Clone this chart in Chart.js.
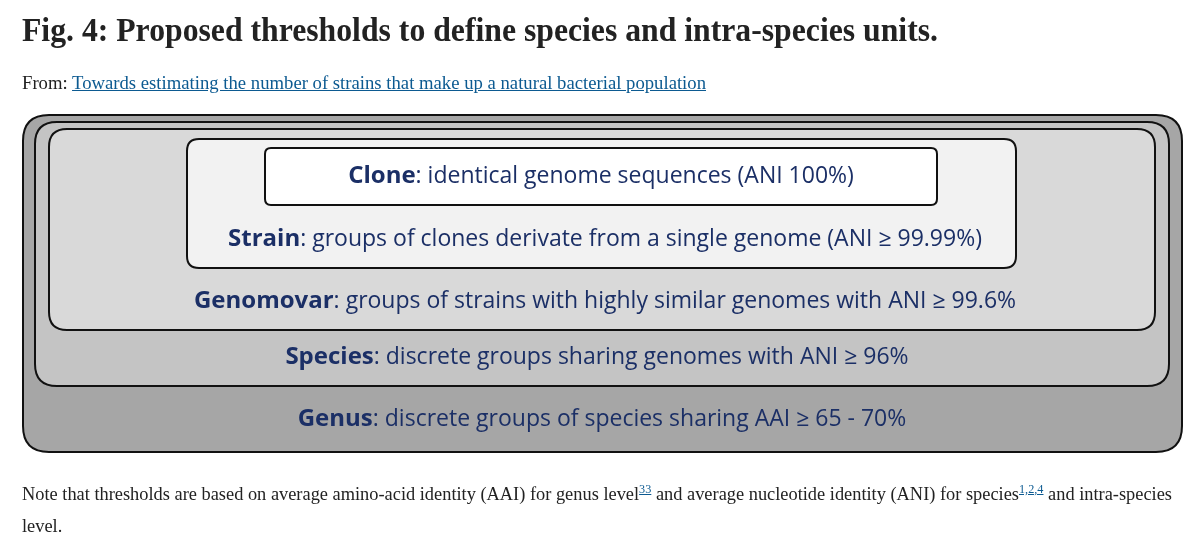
<!DOCTYPE html>
<html><head><meta charset="utf-8">
<script src="https://cdn.jsdelivr.net/npm/chart.js@4"></script>
<style>
html,body{margin:0;padding:0;background:#fff;width:1200px;height:540px;overflow:hidden;font-family:"Liberation Serif",serif}
#wrap{position:absolute;left:0;top:0;width:1200px;height:540px}
.fit{position:absolute;white-space:nowrap;transform-origin:0 0;display:inline-block}
#title{left:22px;top:12px;font-weight:bold;font-size:33px;color:#222}
#from{left:22px;top:73px;font-size:18px;color:#222}
#from a{color:#0c5a91;text-decoration:underline}
#note{left:22px;top:473px;font-size:18px;color:#222;line-height:32px}
#note a{color:#0c5a91;text-decoration:underline;font-size:12px;vertical-align:super}
</style></head><body>
<div id="wrap"><canvas id="c" width="1200" height="540"></canvas></div>
<div id="title" class="fit" data-w="916">Fig. 4: Proposed thresholds to define species and intra-species units.</div>
<div id="from" class="fit" data-w="684">From: <a>Towards estimating the number of strains that make up a natural bacterial population</a></div>
<div id="note" class="fit" data-w="1150">Note that thresholds are based on average amino-acid identity (AAI) for genus level<a>33</a> and average nucleotide identity (ANI) for species<a>1,2,4</a> and intra-species<br>level.</div>
<script>
const levels = ["Genus", "Species", "Genomovar", "Strain", "Clone"];
const descriptions = [
  ": discrete groups of species sharing AAI \u2265 65 - 70%",
  ": discrete groups sharing genomes with ANI \u2265 96%",
  ": groups of strains with highly similar genomes with ANI \u2265 99.6%",
  ": groups of clones derivate from a single genome (ANI \u2265 99.99%)",
  ": identical genome sequences (ANI 100%)"
];
const boxLeft   = [23, 35, 49, 187, 265];
const boxRight  = [1182, 1169, 1155, 1016, 937];
const boxTop    = [115, 122, 129, 139, 148];
const boxBottom = [452, 386, 330, 268, 205];
const labelY    = [419, 357, 301, 239, 176];
const labelX    = [602, 597, 605, 605, 601];
const fills = ["#a6a6a6", "#c4c4c4", "#d9d9d9", "#f2f2f2", "#ffffff"];

function rr(ctx,x0,y0,x1,y1,r){
  ctx.beginPath();
  ctx.moveTo(x0+r,y0);ctx.lineTo(x1-r,y0);ctx.quadraticCurveTo(x1,y0,x1,y0+r);
  ctx.lineTo(x1,y1-r);ctx.quadraticCurveTo(x1,y1,x1-r,y1);
  ctx.lineTo(x0+r,y1);ctx.quadraticCurveTo(x0,y1,x0,y1-r);
  ctx.lineTo(x0,y0+r);ctx.quadraticCurveTo(x0,y0,x0+r,y0);ctx.closePath();
}
const boxes = {
  id:'boxes',
  afterDatasetsDraw(chart){
    const ctx=chart.ctx, xs=chart.scales.x, ys=chart.scales.y;
    const radii=[26,22,18,12,6];
    levels.forEach((lv,i)=>{
      const x0=xs.getPixelForValue(boxLeft[i]), x1=xs.getPixelForValue(boxRight[i]);
      const y0=ys.getPixelForValue(boxTop[i]), y1=ys.getPixelForValue(boxBottom[i]);
      rr(ctx,x0,y0,x1,y1,radii[i]);
      ctx.fillStyle=fills[i];ctx.fill();
      ctx.lineWidth=2;ctx.strokeStyle="#111";ctx.stroke();
    });
    levels.forEach((lv,i)=>{
      ctx.save();
      ctx.fillStyle="#1b2f66";ctx.textBaseline="middle";
      const fb="bold 24px 'Open Sans'", fr="23px 'Open Sans'";
      ctx.font=fb;const w1=ctx.measureText(lv).width;
      ctx.font=fr;const w2=ctx.measureText(descriptions[i]).width;
      const cx=xs.getPixelForValue(labelX[i]), cy=ys.getPixelForValue(labelY[i]);
      let x=cx-(w1+w2)/2;
      ctx.font=fb;ctx.fillText(lv,x,cy);
      ctx.font=fr;ctx.fillText(descriptions[i],x+w1,cy);
      ctx.restore();
    });
  }
};
new Chart(document.getElementById('c'),{
  type:'scatter',
  data:{datasets:[{data:[]}]},
  options:{responsive:false,animation:false,
    layout:{padding:0},
    plugins:{legend:{display:false},tooltip:{enabled:false}},
    scales:{x:{type:'linear',min:0,max:1200,display:false},
            y:{type:'linear',min:0,max:540,reverse:true,display:false}}},
  plugins:[boxes]
});
document.querySelectorAll('.fit').forEach(el=>{
  const w=el.getBoundingClientRect().width, t=+el.dataset.w;
  el.style.transform='scaleX('+(t/w)+')';
});
</script></body></html>
